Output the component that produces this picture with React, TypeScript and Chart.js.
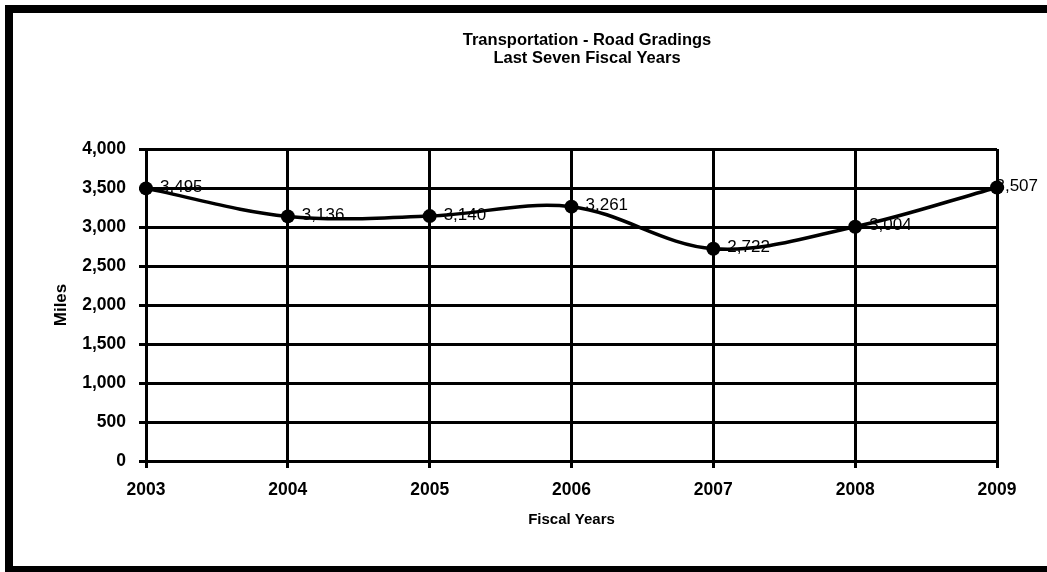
import React, { useEffect, useRef } from "react";
import { Chart, registerables } from "chart.js";

Chart.register(...registerables);

const fiscalYears = ["2003", "2004", "2005", "2006", "2007", "2008", "2009"];
const roadGradingMiles = [3495, 3136, 3140, 3261, 2722, 3004, 3507];
const titleLines = ["Transportation - Road Gradings", "Last Seven Fiscal Years"];
const yAxisTitle = "Miles";
const xAxisTitle = "Fiscal Years";

const FONT = "'Liberation Sans', Arial, sans-serif";

const fmt = (v: number) => v.toLocaleString("en-US");

const decorPlugin = {
  id: "decor",
  beforeDraw(chart: any) {
    const { ctx, width, height } = chart;
    ctx.save();
    ctx.fillStyle = "#ffffff";
    ctx.fillRect(0, 0, width, height);
    ctx.fillStyle = "#000000";
    // frame (left, top, bottom)
    ctx.fillRect(5, 5, 8, height - 5);
    ctx.fillRect(5, 5, width - 5, 8);
    ctx.fillRect(5, 566, width - 5, 6);
    ctx.restore();
  },
  afterDatasetsDraw(chart: any) {
    const { ctx } = chart;
    const meta = chart.getDatasetMeta(0);
    ctx.save();
    ctx.fillStyle = "#000000";
    ctx.font = `17px ${FONT}`;
    ctx.textAlign = "left";
    ctx.textBaseline = "middle";
    meta.data.forEach((pt: any, i: number) => {
      const text = fmt(roadGradingMiles[i]);
      const w = ctx.measureText(text).width;
      let x = pt.x + 14;
      if (x + w > 1038) x = 1038 - w;
      ctx.fillText(text, x, pt.y - 1);
    });
    ctx.restore();
  },
  afterDraw(chart: any) {
    const { ctx, chartArea } = chart;
    const cx = (chartArea.left + chartArea.right) / 2;
    const cy = (chartArea.top + chartArea.bottom) / 2;
    ctx.save();
    ctx.fillStyle = "#000000";
    ctx.textAlign = "center";
    ctx.textBaseline = "middle";
    ctx.font = `bold 16.5px ${FONT}`;
    ctx.fillText(titleLines[0], 587, 40);
    ctx.fillText(titleLines[1], 587, 58);
    ctx.font = `bold 15px ${FONT}`;
    ctx.fillText(xAxisTitle, cx, 520);
    ctx.translate(61, cy);
    ctx.rotate(-Math.PI / 2);
    ctx.font = `bold 17px ${FONT}`;
    ctx.fillText(yAxisTitle, 0, 0);
    ctx.restore();
  },
};

export default function App() {
  const ref = useRef<HTMLCanvasElement | null>(null);

  useEffect(() => {
    document.body.style.margin = "0";
    const canvas = ref.current!;
    const chart = new Chart(canvas, {
      type: "line",
      data: {
        labels: fiscalYears,
        datasets: [
          {
            data: roadGradingMiles,
            borderColor: "#000000",
            borderWidth: 3.5,
            backgroundColor: "#000000",
            pointRadius: 7,
            pointBackgroundColor: "#000000",
            pointBorderColor: "#000000",
            pointBorderWidth: 0,
            tension: 0.35,
            fill: false,
          },
        ],
      },
      options: {
        responsive: false,
        animation: false,
        devicePixelRatio: 1,
        layout: { padding: { top: 149, left: 0, right: 50, bottom: 0 } },
        plugins: {
          legend: { display: false },
          title: { display: false },
          tooltip: { enabled: false },
        },
        scales: {
          x: {
            type: "category",
            offset: false,
            grid: {
              color: "#000000",
              lineWidth: 3,
              tickLength: 7,
              drawTicks: true,
            },
            border: { display: true, color: "#000000", width: 3 },
            ticks: {
              color: "#000000",
              font: { family: FONT, size: 17.5, weight: "bold" },
              padding: 12,
              maxRotation: 0,
              autoSkip: false,
            },
            afterFit(scale: any) {
              scale.height = 111;
            },
          },
          y: {
            min: 0,
            max: 4000,
            grid: {
              color: "#000000",
              lineWidth: 3,
              tickLength: 7,
            },
            border: { display: true, color: "#000000", width: 3 },
            ticks: {
              stepSize: 500,
              color: "#000000",
              font: { family: FONT, size: 17.5, weight: "bold" },
              padding: 13,
              callback: (v: any) => fmt(Number(v)),
            },
            afterFit(scale: any) {
              scale.width = 146;
            },
          },
        },
      },
      plugins: [decorPlugin],
    });
    return () => chart.destroy();
  }, []);

  return (
    <div style={{ position: "absolute", left: 0, top: 0, width: 1047, height: 572 }}>
      <canvas ref={ref} width={1047} height={572} style={{ width: 1047, height: 572, display: "block" }} />
    </div>
  );
}
